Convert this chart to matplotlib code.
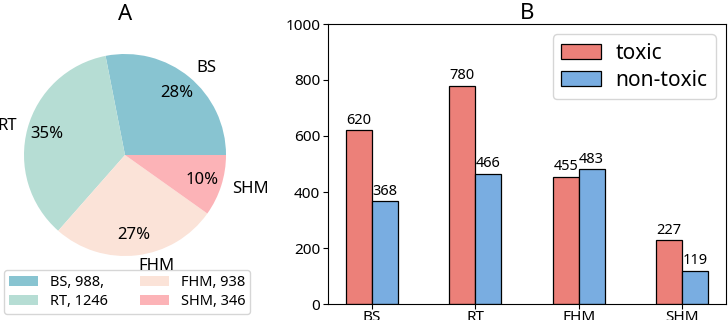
import numpy as np
import matplotlib
matplotlib.use('Agg')
import matplotlib.pyplot as plt

plt.rcParams['font.family'] = ['Noto Sans', 'DejaVu Sans']

# pie data
pie_labels = ['BS', 'RT', 'FHM', 'SHM']
pie_counts = [988, 1246, 938, 346]
pie_legend = ['BS, 988,', 'RT, 1246', 'FHM, 938', 'SHM, 346']
pie_colors = ['#88c4d1', '#b6ddd4', '#fbe3d8', '#fcb3b7']

# bar data
groups = ['BS', 'RT', 'FHM', 'SHM']
toxic = [620, 780, 455, 227]
non_toxic = [368, 466, 483, 119]

W, H = 728, 320
fig = plt.figure(figsize=(W/100, H/100), dpi=100)

# ---- panel A ----
r = 101
side = 2.5*r
cx, cy = 125, H-155
ax1 = fig.add_axes([(cx-side/2)/W, (cy-side/2)/H, side/W, side/H])
wedges, texts, autotexts = ax1.pie(pie_counts, labels=pie_labels, colors=pie_colors,
                                   autopct='%1.0f%%', startangle=0, counterclock=True,
                                   labeldistance=1.11, pctdistance=0.8,
                                   textprops={'fontsize': 12})
for t in texts:
    t.set_zorder(10)
ax1.set_xlim(-1.25, 1.25)
ax1.set_ylim(-1.25, 1.25)
ax1.set_aspect('equal')
fig.text(125/W, 1-14/H, 'A', ha='center', va='center', fontsize=16)
leg = ax1.legend(wedges, pie_legend, ncol=2, loc='center', fontsize=10.5,
                 bbox_to_anchor=(127/W, 28/H), bbox_transform=fig.transFigure,
                 columnspacing=2.2, handlelength=2.0, borderpad=0.35,
                 labelspacing=0.3)
leg.set_zorder(1)

# ---- panel B ----
ax2 = fig.add_axes([328/W, 16/H, 398/W, 280/H])
x = np.arange(len(groups))
w = 0.25
ax2.bar(x-w/2, toxic, w, color='#ec8079', edgecolor='black', linewidth=0.9, label='toxic')
ax2.bar(x+w/2, non_toxic, w, color='#79ade1', edgecolor='black', linewidth=0.9, label='non-toxic')
for xi, v in zip(x-w/2, toxic):
    ax2.text(xi, v+8, str(v), ha='center', va='bottom', fontsize=10.5)
for xi, v in zip(x+w/2, non_toxic):
    ax2.text(xi, v+8, str(v), ha='center', va='bottom', fontsize=10.5)
ax2.set_ylim(0, 1000)
ax2.set_yticks(range(0, 1001, 200))
ax2.set_xticks(x)
ax2.set_xticklabels(groups)
ax2.tick_params(labelsize=11, pad=2)
ax2.tick_params(axis='x', pad=0.5)
ax2.set_title('B', fontsize=16, pad=3)
ax2.legend(loc='upper right', fontsize=15, handlelength=1.9, handletextpad=0.7,
           borderpad=0.4, labelspacing=0.3)

fig.savefig('out.png', dpi=100)
